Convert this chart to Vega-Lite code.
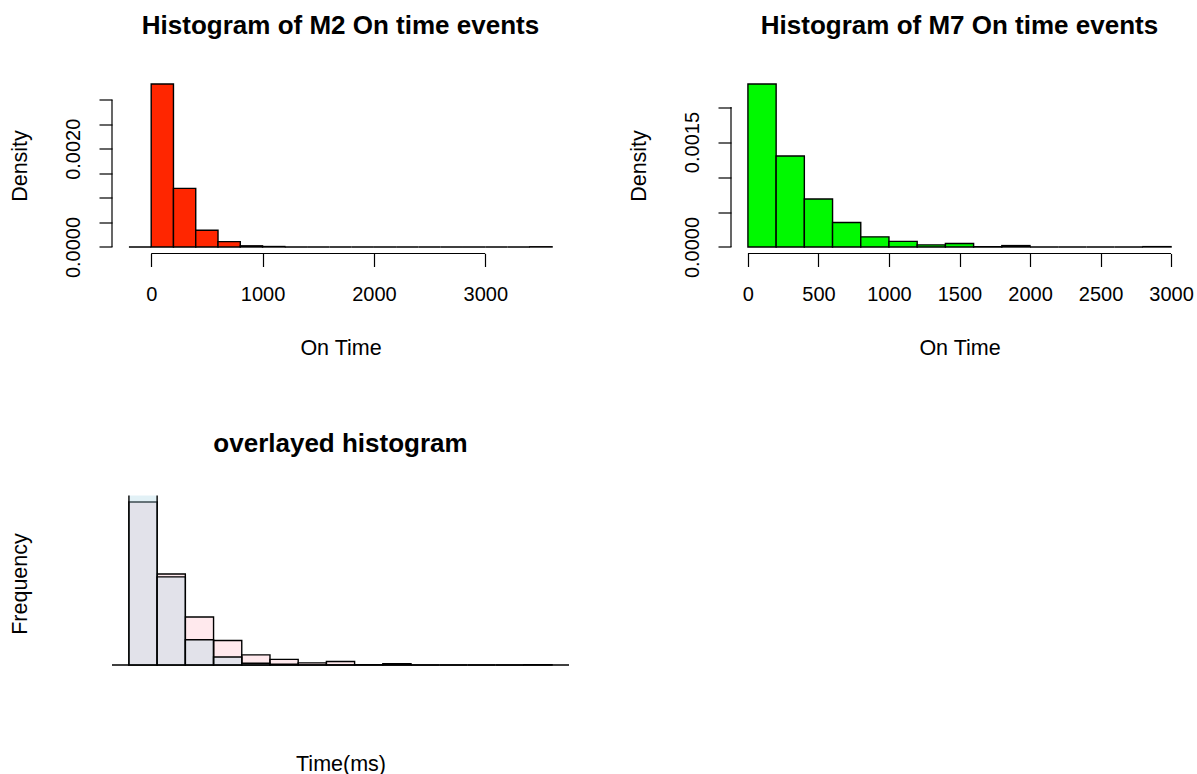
{
  "$schema": "https://vega.github.io/schema/vega-lite/v6.json",
  "background": "white",
  "padding": {"left": 9, "top": 12.5, "right": 0, "bottom": 0},
  "datasets": {
    "m2": [
      {"bin_start": -200, "bin_end": 0, "count": 0, "density": 0},
      {"bin_start": 0, "bin_end": 200, "count": 700, "density": 0.003318},
      {"bin_start": 200, "bin_end": 400, "count": 252, "density": 0.001194},
      {"bin_start": 400, "bin_end": 600, "count": 72, "density": 0.000341},
      {"bin_start": 600, "bin_end": 800, "count": 23, "density": 0.000109},
      {"bin_start": 800, "bin_end": 1000, "count": 5, "density": 0.0000237},
      {"bin_start": 1000, "bin_end": 1200, "count": 2, "density": 0.0000095},
      {"bin_start": 1200, "bin_end": 1400, "count": 0, "density": 0},
      {"bin_start": 1400, "bin_end": 1600, "count": 0, "density": 0},
      {"bin_start": 1600, "bin_end": 1800, "count": 0, "density": 0},
      {"bin_start": 1800, "bin_end": 2000, "count": 0, "density": 0},
      {"bin_start": 2000, "bin_end": 2200, "count": 0, "density": 0},
      {"bin_start": 2200, "bin_end": 2400, "count": 0, "density": 0},
      {"bin_start": 2400, "bin_end": 2600, "count": 0, "density": 0},
      {"bin_start": 2600, "bin_end": 2800, "count": 0, "density": 0},
      {"bin_start": 2800, "bin_end": 3000, "count": 0, "density": 0},
      {"bin_start": 3000, "bin_end": 3200, "count": 0, "density": 0},
      {"bin_start": 3200, "bin_end": 3400, "count": 0, "density": 0},
      {"bin_start": 3400, "bin_end": 3600, "count": 1, "density": 0.0000047}
    ],
    "m7": [
      {"bin_start": 0, "bin_end": 200, "count": 466, "density": 0.00233},
      {"bin_start": 200, "bin_end": 400, "count": 260, "density": 0.0013},
      {"bin_start": 400, "bin_end": 600, "count": 137, "density": 0.000685},
      {"bin_start": 600, "bin_end": 800, "count": 70, "density": 0.00035},
      {"bin_start": 800, "bin_end": 1000, "count": 29, "density": 0.000145},
      {"bin_start": 1000, "bin_end": 1200, "count": 16, "density": 0.00008},
      {"bin_start": 1200, "bin_end": 1400, "count": 6, "density": 0.00003},
      {"bin_start": 1400, "bin_end": 1600, "count": 10, "density": 0.00005},
      {"bin_start": 1600, "bin_end": 1800, "count": 1, "density": 0.000005},
      {"bin_start": 1800, "bin_end": 2000, "count": 4, "density": 0.00002},
      {"bin_start": 2000, "bin_end": 2200, "count": 0, "density": 0},
      {"bin_start": 2200, "bin_end": 2400, "count": 0, "density": 0},
      {"bin_start": 2400, "bin_end": 2600, "count": 0, "density": 0},
      {"bin_start": 2600, "bin_end": 2800, "count": 0, "density": 0},
      {"bin_start": 2800, "bin_end": 3000, "count": 1, "density": 0.000005}
    ]
  },
  "columns": 2,
  "spacing": {"row": 242, "column": 162},
  "bounds": "flush",
  "concat": [
    {
      "width": 457,
      "height": 176,
      "title": "Histogram of M2 On time events",
      "layer": [
        {
          "data": {"name": "m2"},
          "mark": {"type": "rect", "fill": "#ff2600", "stroke": "black", "strokeWidth": 1.4},
          "encoding": {
            "x": {"field": "bin_start", "type": "quantitative",
                  "scale": {"domain": [-352, 3752], "nice": false, "zero": false},
                  "axis": {"values": [0, 1000, 2000, 3000], "format": "d", "title": "On Time"}},
            "x2": {"field": "bin_end"},
            "y": {"field": "density", "type": "quantitative",
                  "scale": {"domain": [-0.0001327, 0.0034507], "nice": false, "zero": false},
                  "axis": {"values": [0, 0.0005, 0.001, 0.0015, 0.002, 0.0025, 0.003], "format": ".4f",
                           "labelExpr": "datum.label == '0.0000' || datum.label == '0.0020' ? datum.label : ''",
                           "title": "Density"}},
            "y2": {"datum": 0}
          }
        },
        {
          "data": {"values": [{}]},
          "mark": {"type": "rule", "color": "black", "strokeWidth": 1.2},
          "encoding": {
            "x": {"datum": 0, "axis": {"values": [0, 1000, 2000, 3000], "format": "d", "title": "On Time"}},
            "x2": {"datum": 3000},
            "y": {"datum": -0.0001327, "axis": {"values": [0, 0.0005, 0.001, 0.0015, 0.002, 0.0025, 0.003], "format": ".4f",
                           "labelExpr": "datum.label == '0.0000' || datum.label == '0.0020' ? datum.label : ''",
                           "title": "Density"}}
          }
        },
        {
          "data": {"values": [{}]},
          "mark": {"type": "rule", "color": "black", "strokeWidth": 1.2},
          "encoding": {
            "x": {"datum": -352, "axis": {"values": [0, 1000, 2000, 3000], "format": "d", "title": "On Time"}},
            "y": {"datum": 0, "axis": {"values": [0, 0.0005, 0.001, 0.0015, 0.002, 0.0025, 0.003], "format": ".4f",
                           "labelExpr": "datum.label == '0.0000' || datum.label == '0.0020' ? datum.label : ''",
                           "title": "Density"}},
            "y2": {"datum": 0.003}
          }
        }
      ]
    },
    {
      "width": 457,
      "height": 176,
      "title": "Histogram of M7 On time events",
      "layer": [
        {
          "data": {"name": "m7"},
          "mark": {"type": "rect", "fill": "#00f900", "stroke": "black", "strokeWidth": 1.4},
          "encoding": {
            "x": {"field": "bin_start", "type": "quantitative",
                  "scale": {"domain": [-120, 3120], "nice": false, "zero": false},
                  "axis": {"values": [0, 500, 1000, 1500, 2000, 2500, 3000], "format": "d", "title": "On Time"}},
            "x2": {"field": "bin_end"},
            "y": {"field": "density", "type": "quantitative",
                  "scale": {"domain": [-0.0000932, 0.0024232], "nice": false, "zero": false},
                  "axis": {"values": [0, 0.0005, 0.001, 0.0015, 0.002], "format": ".4f",
                           "labelExpr": "datum.label == '0.0000' || datum.label == '0.0015' ? datum.label : ''",
                           "title": "Density"}},
            "y2": {"datum": 0}
          }
        },
        {
          "data": {"values": [{}]},
          "mark": {"type": "rule", "color": "black", "strokeWidth": 1.2},
          "encoding": {
            "x": {"datum": 0, "axis": {"values": [0, 500, 1000, 1500, 2000, 2500, 3000], "format": "d", "title": "On Time"}},
            "x2": {"datum": 3000},
            "y": {"datum": -0.0000932, "axis": {"values": [0, 0.0005, 0.001, 0.0015, 0.002], "format": ".4f",
                           "labelExpr": "datum.label == '0.0000' || datum.label == '0.0015' ? datum.label : ''",
                           "title": "Density"}}
          }
        },
        {
          "data": {"values": [{}]},
          "mark": {"type": "rule", "color": "black", "strokeWidth": 1.2},
          "encoding": {
            "x": {"datum": -120, "axis": {"values": [0, 500, 1000, 1500, 2000, 2500, 3000], "format": "d", "title": "On Time"}},
            "y": {"datum": 0, "axis": {"values": [0, 0.0005, 0.001, 0.0015, 0.002], "format": ".4f",
                           "labelExpr": "datum.label == '0.0000' || datum.label == '0.0015' ? datum.label : ''",
                           "title": "Density"}},
            "y2": {"datum": 0.002}
          }
        }
      ]
    },
    {
      "width": 457,
      "height": 176,
      "title": "overlayed histogram",
      "layer": [
        {
          "data": {"name": "m7"},
          "mark": {"type": "rect", "fill": "#ffc0cb", "fillOpacity": 0.35, "stroke": "black", "strokeWidth": 1.4, "clip": true},
          "encoding": {
            "x": {"field": "bin_start", "type": "quantitative",
                  "scale": {"domain": [-120, 3120], "nice": false, "zero": false},
                  "axis": {"title": "Time(ms)", "labels": false, "ticks": false, "domain": false, "titleY": 99}},
            "x2": {"field": "bin_end"},
            "y": {"field": "count", "type": "quantitative",
                  "scale": {"domain": [-18.64, 484.64], "nice": false, "zero": false},
                  "axis": {"title": "Frequency", "labels": false, "ticks": false, "domain": false}},
            "y2": {"datum": 0}
          }
        },
        {
          "data": {"name": "m2"},
          "mark": {"type": "rect", "fill": "#add8e6", "fillOpacity": 0.35, "stroke": "black", "strokeWidth": 1.4, "clip": true},
          "encoding": {
            "x": {"field": "bin_start", "type": "quantitative",
                  "axis": {"title": "Time(ms)", "labels": false, "ticks": false, "domain": false, "titleY": 99}},
            "x2": {"field": "bin_end"},
            "y": {"field": "count", "type": "quantitative",
                  "axis": {"title": "Frequency", "labels": false, "ticks": false, "domain": false}},
            "y2": {"datum": 0}
          }
        }
      ]
    }
  ],
  "config": {
    "view": {"stroke": null},
    "font": "Liberation Sans",
    "title": {"fontSize": 26, "fontWeight": "bold", "color": "black", "anchor": "middle", "frame": "group", "baseline": "alphabetic", "offset": 38.5},
    "axis": {"grid": false, "domain": false, "tickColor": "black", "tickSize": 13, "tickWidth": 1.2,
             "labelFont": "Liberation Sans", "labelFontSize": 20, "labelColor": "black",
             "labelFlush": false, "labelOverlap": false, "labelBound": false,
             "titleFont": "Liberation Sans", "titleFontSize": 21.5, "titleFontWeight": "normal", "titleColor": "black", "titlePadding": 0},
    "axisX": {"labelBaseline": "alphabetic", "labelPadding": 34, "titleY": 101, "titleBaseline": "alphabetic"},
    "axisY": {"labelAngle": -90, "labelAlign": "center", "labelBaseline": "alphabetic", "labelPadding": 19.5,
              "titleAngle": -90, "titleX": -85.5, "titleY": 88, "titleBaseline": "alphabetic", "titleAlign": "center"}
  }
}
